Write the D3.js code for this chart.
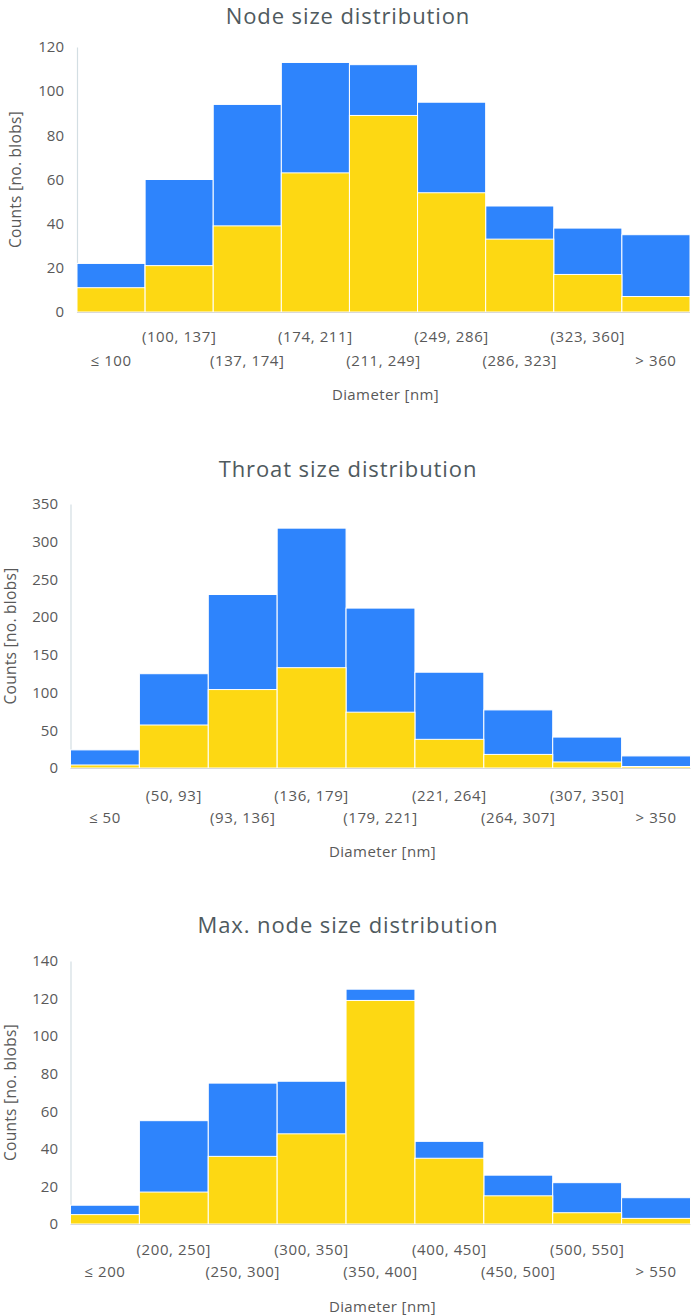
<!DOCTYPE html>
<html>
<head>
<meta charset="utf-8">
<script src="https://cdn.jsdelivr.net/npm/d3@7/dist/d3.min.js"></script>
<style>
  html, body { margin: 0; padding: 0; background: #fff; }
  svg { display: block; }
  text { font-family: "Open Sans", "Noto Sans", sans-serif; fill: #595959; }
</style>
</head>
<body>
<svg id="chart" width="692" height="1316"></svg>
<script>
// ---------- Data ----------
const nodeTitle = "Node size distribution";
const nodeCategories = ["≤ 100", "(100, 137]", "(137, 174]", "(174, 211]", "(211, 249]", "(249, 286]", "(286, 323]", "(323, 360]", "> 360"];
const nodeBlue = [22, 60, 94, 113, 112, 95, 48, 38, 35];
const nodeYellow = [11, 21, 39, 63, 89, 54, 33, 17, 7];
const nodeTicks = [0, 20, 40, 60, 80, 100, 120];

const throatTitle = "Throat size distribution";
const throatCategories = ["≤ 50", "(50, 93]", "(93, 136]", "(136, 179]", "(179, 221]", "(221, 264]", "(264, 307]", "(307, 350]", "> 350"];
const throatBlue = [24, 125, 230, 318, 212, 127, 77, 41, 16];
const throatYellow = [4, 57, 104, 133, 74, 38, 18, 8, 2];
const throatTicks = [0, 50, 100, 150, 200, 250, 300, 350];

const maxTitle = "Max. node size distribution";
const maxCategories = ["≤ 200", "(200, 250]", "(250, 300]", "(300, 350]", "(350, 400]", "(400, 450]", "(450, 500]", "(500, 550]", "> 550"];
const maxBlue = [10, 55, 75, 76, 125, 44, 26, 22, 14];
const maxYellow = [5, 17, 36, 48, 119, 35, 15, 6, 3];
const maxTicks = [0, 20, 40, 60, 80, 100, 120, 140];

const xTitle = "Diameter [nm]";
const yTitle = "Counts [no. blobs]";

// ---------- Drawing ----------
const BLUE = "#2e84fc";
const YELLOW = "#fdd813";
const svg = d3.select("#chart");

function drawChart(cfg) {
  const g = svg.append("g");
  const x = d3.scaleBand().domain(cfg.categories).range([cfg.left, cfg.right]).padding(0);
  const y = d3.scaleLinear().domain([0, d3.max(cfg.ticks)]).range([cfg.bottom, cfg.top]);

  // title
  g.append("text")
    .attr("x", 348).attr("y", cfg.titleY)
    .attr("text-anchor", "middle")
    .style("font-size", "22px")
    .style("letter-spacing", "0.9px")
    .style("fill", "#4f5a5e")
    .text(cfg.title);

  // y axis
  const yAxis = d3.axisLeft(y).tickValues(cfg.ticks).tickSize(0).tickPadding(cfg.left - cfg.tickRight);
  const ya = g.append("g").attr("transform", `translate(${cfg.left},0)`).call(yAxis);
  ya.select(".domain").attr("stroke", "#d3dee3").attr("stroke-width", 1.2);
  ya.selectAll("text").style("font-size", "15px").style("font-family", "Open Sans").attr("fill", "#595959");

  // bars
  const data = cfg.categories.map((c, i) => ({ c, blue: cfg.blue[i], yellow: cfg.yellow[i] }));
  g.selectAll(".blue").data(data).join("rect")
    .attr("x", d => x(d.c)).attr("width", x.bandwidth())
    .attr("y", d => y(d.blue)).attr("height", d => y(0) - y(d.blue))
    .attr("fill", BLUE).attr("stroke", "#ffffff").attr("stroke-width", 1);
  g.selectAll(".yellow").data(data).join("rect")
    .attr("x", d => x(d.c)).attr("width", x.bandwidth())
    .attr("y", d => y(d.yellow)).attr("height", d => y(0) - y(d.yellow))
    .attr("fill", YELLOW).attr("stroke", "#ffffff").attr("stroke-width", 1);

  // baseline
  g.append("line")
    .attr("x1", cfg.left).attr("x2", cfg.right)
    .attr("y1", y(0) + 0.5).attr("y2", y(0) + 0.5)
    .attr("stroke", "#d9d9d9").attr("stroke-width", 1);

  // x category labels (two staggered rows)
  g.selectAll(".xl").data(cfg.categories).join("text")
    .attr("x", d => x(d) + x.bandwidth() / 2)
    .attr("y", (d, i) => i % 2 === 1 ? cfg.row1 : cfg.row2)
    .attr("dy", "0.35em")
    .attr("text-anchor", "middle")
    .style("font-size", "15px")
    .style("letter-spacing", "0.6px")
    .text(d => d);

  // x title
  g.append("text")
    .attr("x", (cfg.left + cfg.right) / 2 + 2).attr("y", cfg.xTitleY)
    .attr("dy", "0.35em").attr("text-anchor", "middle")
    .style("font-size", "15px")
    .style("letter-spacing", "0.4px")
    .text(xTitle);

  // y title
  g.append("text")
    .attr("transform", `translate(${cfg.yTitleX},${(cfg.top + cfg.bottom) / 2}) rotate(-90)`)
    .attr("dy", "0.35em").attr("text-anchor", "middle")
    .style("font-size", "15.5px")
    .style("letter-spacing", "0.3px")
    .text(yTitle);
}

drawChart({
  title: nodeTitle, categories: nodeCategories, blue: nodeBlue, yellow: nodeYellow, ticks: nodeTicks,
  left: 77, right: 690, top: 47, bottom: 312, tickRight: 64,
  titleY: 23.5, row1: 337, row2: 361, xTitleY: 395, yTitleX: 16
});
drawChart({
  title: throatTitle, categories: throatCategories, blue: throatBlue, yellow: throatYellow, ticks: throatTicks,
  left: 70.5, right: 690.5, top: 504, bottom: 768, tickRight: 58,
  titleY: 477, row1: 796, row2: 818, xTitleY: 852, yTitleX: 10.5
});
drawChart({
  title: maxTitle, categories: maxCategories, blue: maxBlue, yellow: maxYellow, ticks: maxTicks,
  left: 70.5, right: 690.5, top: 961, bottom: 1224, tickRight: 58,
  titleY: 933, row1: 1250, row2: 1272, xTitleY: 1307, yTitleX: 10.5
});
</script>
</body>
</html>
